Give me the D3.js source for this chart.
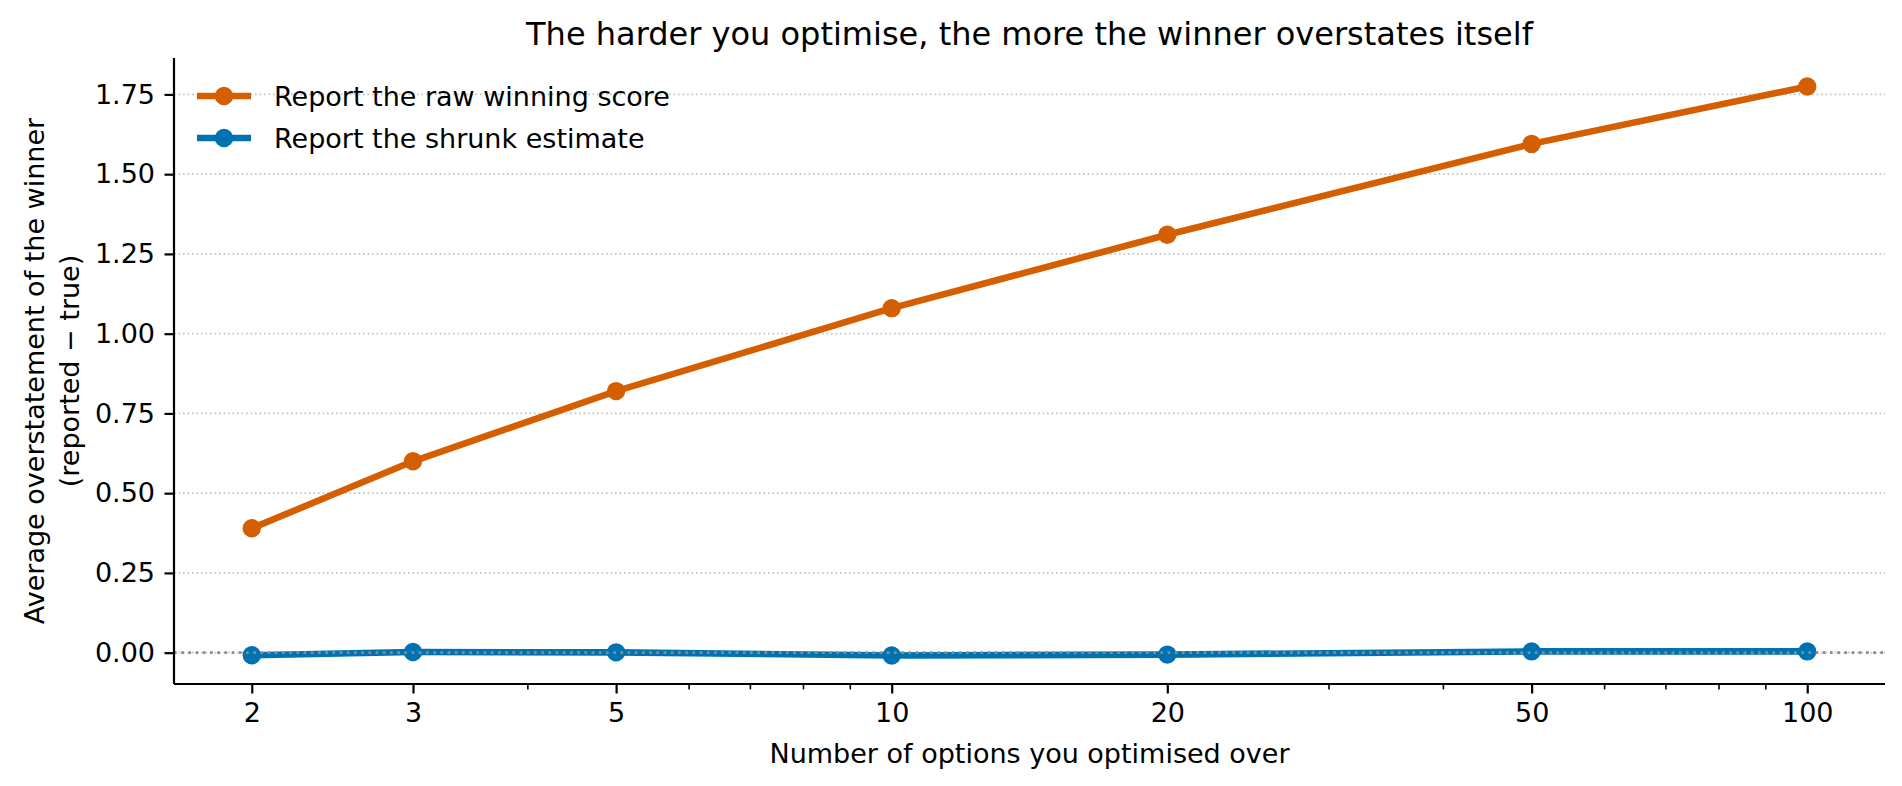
<!DOCTYPE html>
<html>
<head>
<meta charset="utf-8">
<script src="https://cdn.jsdelivr.net/npm/d3@7"></script>
<style>
  html, body { margin: 0; padding: 0; background: #fff; }
  svg { display: block; font-family: "DejaVu Sans", sans-serif; }
</style>
</head>
<body>
<svg id="chart" width="1902" height="786"></svg>
<script>
// ---- data ----
const options = [2, 3, 5, 10, 20, 50, 100];
const rawScore = [0.39, 0.60, 0.82, 1.08, 1.31, 1.595, 1.775];
const shrunkEstimate = [-0.008, 0.002, 0.001, -0.009, -0.006, 0.004, 0.004];
const yTicks = [0.00, 0.25, 0.50, 0.75, 1.00, 1.25, 1.50, 1.75];
const xMajorTicks = [2, 3, 5, 10, 20, 50, 100];
const xMinorTicks = [4, 6, 7, 8, 9, 30, 40, 60, 70, 80, 90];
const seriesNames = ["Report the raw winning score", "Report the shrunk estimate"];
const seriesColors = ["#D55E00", "#0072B2"];

const svg = d3.select("#chart");
const W = 1902, H = 786;
const m = { left: 174, right: 17, top: 58, bottom: 102 };
const pw = W - m.left - m.right, ph = H - m.top - m.bottom;

// matplotlib-like 5% margins
const lx0 = Math.log10(d3.min(options)), lx1 = Math.log10(d3.max(options));
const lxm = (lx1 - lx0) * 0.05;
const x = d3.scaleLog().domain([Math.pow(10, lx0 - lxm), Math.pow(10, lx1 + lxm)]).range([m.left, m.left + pw]);
const allY = rawScore.concat(shrunkEstimate);
const y0 = d3.min(allY), y1 = d3.max(allY), ym = (y1 - y0) * 0.05;
const y = d3.scaleLinear().domain([y0 - ym, y1 + ym]).range([m.top + ph, m.top]);

const fs = 27;
const lw = 6.6, mr = 9.2;

// grid
svg.append("g").selectAll("line").data(yTicks).join("line")
  .attr("x1", m.left).attr("x2", m.left + pw)
  .attr("y1", d => y(d)).attr("y2", d => y(d))
  .attr("stroke", "#c4c4c4").attr("stroke-width", 1.7)
  .attr("stroke-dasharray", "1.7 2.8");

// series
const series = [rawScore, shrunkEstimate];
const line = d3.line().x((d, i) => x(options[i])).y(d => y(d));
series.forEach((s, k) => {
  const g = svg.append("g");
  g.append("path").datum(s).attr("d", line)
    .attr("fill", "none").attr("stroke", seriesColors[k])
    .attr("stroke-width", lw).attr("stroke-linejoin", "round").attr("stroke-linecap", "butt");
  g.selectAll("circle").data(s).join("circle")
    .attr("cx", (d, i) => x(options[i])).attr("cy", d => y(d))
    .attr("r", mr).attr("fill", seriesColors[k]);
});

// zero reference line
svg.append("line")
  .attr("x1", m.left).attr("x2", m.left + pw)
  .attr("y1", y(0)).attr("y2", y(0))
  .attr("stroke", "#8a8a8a").attr("stroke-width", 2.7)
  .attr("stroke-dasharray", "2.7 4.5");

// axes
const xAxis = d3.axisBottom(x).tickValues(xMajorTicks).tickFormat(d3.format("d"))
  .tickSize(9.5).tickPadding(9.5);
const gx = svg.append("g").attr("transform", `translate(0,${m.top + ph})`).call(xAxis);
gx.select(".domain").attr("d", `M${m.left},0H${m.left + pw}`).attr("stroke-width", 2.2);
gx.selectAll(".tick line").attr("stroke-width", 2.2);
gx.selectAll(".tick text").attr("font-size", fs).attr("fill", "#000").attr("font-family", "DejaVu Sans");

const xMinor = d3.axisBottom(x).tickValues(xMinorTicks).tickFormat("").tickSize(5.4);
const gxm = svg.append("g").attr("transform", `translate(0,${m.top + ph})`).call(xMinor);
gxm.select(".domain").remove();
gxm.selectAll(".tick line").attr("stroke-width", 1.6);

const yAxis = d3.axisLeft(y).tickValues(yTicks).tickFormat(d3.format(".2f"))
  .tickSize(9.5).tickPadding(9.5);
const gy = svg.append("g").attr("transform", `translate(${m.left},0)`).call(yAxis);
gy.select(".domain").attr("d", `M0,${m.top}V${m.top + ph}`).attr("stroke-width", 2.2);
gy.selectAll(".tick line").attr("stroke-width", 2.2);
gy.selectAll(".tick text").attr("font-size", fs).attr("fill", "#000").attr("font-family", "DejaVu Sans");

// title
svg.append("text").attr("x", m.left + pw / 2).attr("y", 34)
  .attr("text-anchor", "middle").attr("dominant-baseline", "central")
  .attr("font-size", 32).text("The harder you optimise, the more the winner overstates itself");

// x label
svg.append("text").attr("x", m.left + pw / 2).attr("y", 753)
  .attr("text-anchor", "middle").attr("dominant-baseline", "central")
  .attr("font-size", fs).text("Number of options you optimised over");

// y label (two lines)
const cy = m.top + ph / 2;
const yl = svg.append("text").attr("transform", `translate(34,${cy}) rotate(-90)`)
  .attr("text-anchor", "middle").attr("font-size", fs);
yl.append("tspan").attr("x", 0).attr("y", 0).attr("dominant-baseline", "central").text("Average overstatement of the winner");
yl.append("tspan").attr("x", 0).attr("y", 35.5).attr("dominant-baseline", "central").text("(reported \u2212 true)");

// legend
const leg = svg.append("g");
seriesNames.forEach((name, k) => {
  const ly = 96 + k * 42;
  leg.append("line").attr("x1", 197).attr("x2", 251).attr("y1", ly).attr("y2", ly)
    .attr("stroke", seriesColors[k]).attr("stroke-width", lw);
  leg.append("circle").attr("cx", 224).attr("cy", ly).attr("r", mr).attr("fill", seriesColors[k]);
  leg.append("text").attr("x", 274).attr("y", ly).attr("dominant-baseline", "central")
    .attr("font-size", fs).text(name);
});
</script>
</body>
</html>
